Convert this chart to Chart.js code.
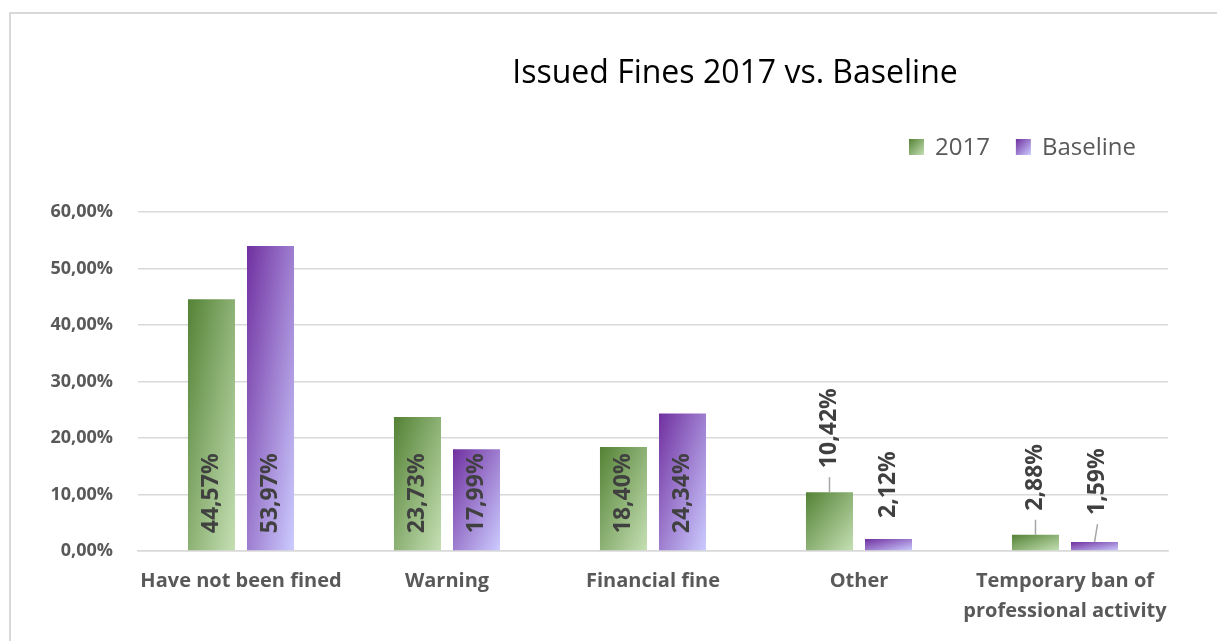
<!DOCTYPE html>
<html>
<head>
<meta charset="utf-8">
<title>Issued Fines 2017 vs. Baseline</title>
<script src="https://cdn.jsdelivr.net/npm/chart.js@4.4.1/dist/chart.umd.min.js"></script>
<style>
  html, body { margin: 0; padding: 0; background: #fff; overflow: hidden; }
  #wrap { position: relative; width: 1217px; height: 641px; }
  #frame { position: absolute; left: 9px; top: 12px; width: 1300px; height: 700px; border: 2px solid #d9d9d9; box-sizing: border-box; }
  #chart { position: absolute; left: 0; top: 0; }
</style>
</head>
<body>
<div id="wrap">
  <div id="frame"></div>
  <canvas id="chart" width="1217" height="641"></canvas>
</div>
<script>
const categories = ['Have not been fined', 'Warning', 'Financial fine', 'Other', ['Temporary ban of', 'professional activity']];
const values2017 = [44.57, 23.73, 18.40, 10.42, 2.88];
const valuesBaseline = [53.97, 17.99, 24.34, 2.12, 1.59];
const yTicks = [0, 10, 20, 30, 40, 50, 60];

// first three categories carry their labels inside the bar, the rest sit above it
const labelInside = [true, true, true, false, false];

const FONT = "'Open Sans', 'DejaVu Sans', sans-serif";
const CAT_PCT = 0.573;
const BAR_PCT = 0.797;

const palette = [
  { dark: '#548235', light: '#c5e0b4' },
  { dark: '#7030a0', light: '#ccccff' }
];

const pct = v => v.toFixed(2).replace('.', ',') + '%';

// diagonal fill: dark top-left corner to light bottom-right, isolines along the other diagonal
function diagGradient(ctx, x0, y0, x1, y1, c) {
  const w = x1 - x0, h = y1 - y0;
  const k = 2 * w * h / (w * w + h * h || 1);
  const g = ctx.createLinearGradient(x0, y0, x0 + h * k, y0 + w * k);
  g.addColorStop(0, c.dark);
  g.addColorStop(1, c.light);
  return g;
}

function barFill(c) {
  const chart = c.chart;
  const col = palette[c.datasetIndex];
  const xs = chart.scales.x, ys = chart.scales.y;
  if (c.type !== 'data' || !xs || !ys) return col.dark;
  const cw = (xs.right - xs.left) / categories.length;
  const slot = cw * CAT_PCT / 2;
  const mid = xs.getPixelForValue(c.dataIndex) + (c.datasetIndex - 0.5) * slot;
  const w = slot * BAR_PCT;
  const top = ys.getPixelForValue(c.raw), base = ys.getPixelForValue(0);
  if (![mid, w, top, base].every(Number.isFinite) || w <= 0) return col.dark;
  return diagGradient(chart.ctx, mid - w / 2, top, mid + w / 2, base, col);
}

const valueLabels = {
  id: 'valueLabels',
  afterDatasetsDraw(chart) {
    const ctx = chart.ctx;
    ctx.save();
    ctx.font = 'bold 23px ' + FONT;
    ctx.fillStyle = '#404040';
    ctx.textBaseline = 'middle';
    ctx.textAlign = 'left';
    chart.data.datasets.forEach((ds, di) => {
      chart.getDatasetMeta(di).data.forEach((el, i) => {
        const text = pct(ds.data[i]);
        let sx = el.x, sy;
        if (labelInside[i]) {
          sy = el.base - 17;
        } else {
          const close = di === 1 && i === 3;
          const gap = di === 1 && i === 4 ? 27 : (close ? 21 : 24);
          if (di === 1 && i === 4) sx += 3;
          sy = el.y - gap;
          if (!close) {
            ctx.strokeStyle = '#a6a6a6';
            ctx.lineWidth = 1.5;
            ctx.beginPath();
            ctx.moveTo(el.x, el.y);
            ctx.lineTo(sx, sy + 9);
            ctx.stroke();
          }
        }
        ctx.save();
        ctx.translate(sx, sy);
        ctx.rotate(-Math.PI / 2);
        ctx.fillText(text, 0, 0);
        ctx.restore();
      });
    });
    ctx.restore();
  }
};

const headerAndKey = {
  id: 'headerAndKey',
  afterDraw(chart) {
    const ctx = chart.ctx;
    ctx.save();
    ctx.fillStyle = '#000';
    ctx.font = '32px ' + FONT;
    ctx.textAlign = 'center';
    ctx.textBaseline = 'alphabetic';
    ctx.fillText('Issued Fines 2017 vs. Baseline', 735, 83);

    ctx.font = '24px ' + FONT;
    ctx.textAlign = 'left';
    let x = 909;
    chart.data.datasets.forEach((ds, di) => {
      ctx.fillStyle = diagGradient(ctx, x, 139, x + 15, 155, palette[di]);
      ctx.fillRect(x, 139, 15, 16);
      ctx.fillStyle = '#595959';
      ctx.fillText(ds.label, x + 26, 155);
      x += 26 + ctx.measureText(ds.label).width + 26;
    });
    ctx.restore();
  }
};

new Chart(document.getElementById('chart'), {
  type: 'bar',
  data: {
    labels: categories,
    datasets: [
      { label: '2017', data: values2017, backgroundColor: barFill, borderWidth: 0 },
      { label: 'Baseline', data: valuesBaseline, backgroundColor: barFill, borderWidth: 0 }
    ]
  },
  options: {
    responsive: false,
    animation: false,
    categoryPercentage: CAT_PCT,
    barPercentage: BAR_PCT,
    layout: { padding: { top: 212, right: 49, left: 0, bottom: 0 } },
    plugins: { legend: { display: false }, title: { display: false }, tooltip: { enabled: false } },
    scales: {
      x: {
        grid: { display: false, drawTicks: false },
        border: { display: true, color: '#d9d9d9', width: 1.5 },
        ticks: { color: '#595959', padding: 15, maxRotation: 0, autoSkip: false,
                 font: { family: FONT, size: 20, weight: 'bold', lineHeight: 1.5 } },
        afterFit: s => { s.height = 90; }
      },
      y: {
        min: 0, max: 60,
        afterBuildTicks: s => { s.ticks = yTicks.map(v => ({ value: v })); },
        grid: { color: '#d9d9d9', lineWidth: 1.5, drawTicks: false },
        border: { display: false },
        ticks: { color: '#595959', padding: 25, callback: v => pct(v),
                 font: { family: FONT, size: 18, weight: 'bold' } },
        afterFit: s => { s.width = 138; }
      }
    }
  },
  plugins: [valueLabels, headerAndKey]
});
</script>
</body>
</html>
